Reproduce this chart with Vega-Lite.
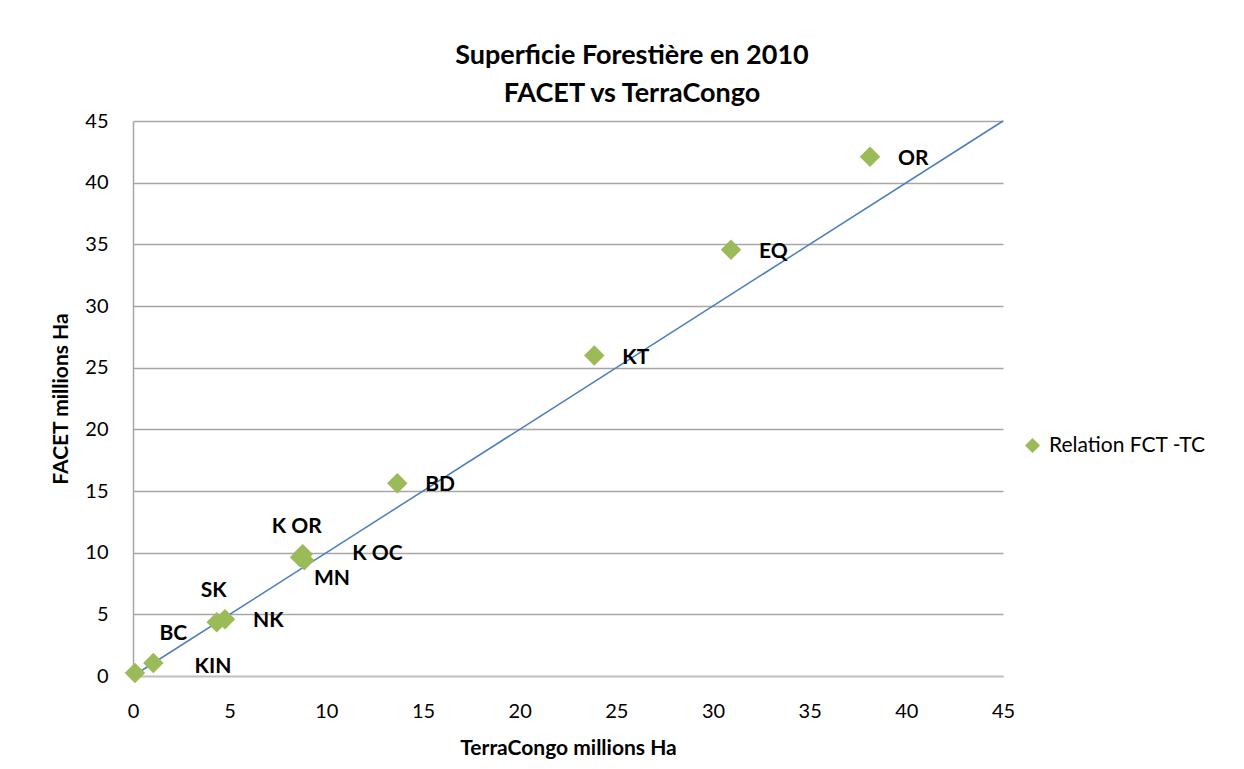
{
  "$schema": "https://vega.github.io/schema/vega-lite/v6.json",
  "width": 870,
  "height": 555,
  "autosize": "none",
  "padding": {"left": 133, "top": 121, "right": 241, "bottom": 93},
  "background": "white",
  "title": {
    "text": ["Superficie Forestière en 2010", "FACET vs TerraCongo"],
    "font": "Lato",
    "fontSize": 27,
    "fontWeight": "bold",
    "color": "black",
    "anchor": "middle",
    "frame": "group",
    "dx": 64,
    "offset": 3,
    "lineHeight": 38
  },
  "config": {
    "view": {"stroke": null},
    "font": "Lato"
  },
  "datasets": {
    "pts": [
      {"label": "KIN", "tc": 0.1, "facet": 0.24, "series": "Relation FCT -TC"},
      {"label": "BC", "tc": 1.05, "facet": 1.05, "series": "Relation FCT -TC"},
      {"label": "SK", "tc": 4.33, "facet": 4.35, "series": "Relation FCT -TC"},
      {"label": "NK", "tc": 4.76, "facet": 4.61, "series": "Relation FCT -TC"},
      {"label": "K OR", "tc": 8.78, "facet": 9.87, "series": "Relation FCT -TC"},
      {"label": "K OC", "tc": 8.86, "facet": 9.39, "series": "Relation FCT -TC"},
      {"label": "MN", "tc": 8.64, "facet": 9.63, "series": "Relation FCT -TC"},
      {"label": "BD", "tc": 13.67, "facet": 15.62, "series": "Relation FCT -TC"},
      {"label": "KT", "tc": 23.86, "facet": 25.98, "series": "Relation FCT -TC"},
      {"label": "EQ", "tc": 30.93, "facet": 34.56, "series": "Relation FCT -TC"},
      {"label": "OR", "tc": 38.12, "facet": 42.11, "series": "Relation FCT -TC"}
    ],
    "line": [
      {"tc": 0, "facet": 0},
      {"tc": 45, "facet": 45}
    ]
  },
  "encoding": {
    "x": {
      "field": "tc",
      "type": "quantitative",
      "scale": {"domain": [0, 45], "nice": false, "zero": true},
      "axis": {
        "title": "TerraCongo millions Ha",
        "values": [0, 5, 10, 15, 20, 25, 30, 35, 40, 45],
        "grid": false,
        "ticks": false,
        "domain": true,
        "domainColor": "#bfbfbf",
        "domainWidth": 1.5,
        "labelFont": "Lato",
        "labelFontSize": 20,
        "labelColor": "black",
        "labelPadding": 25,
        "labelFlush": false,
        "titleFont": "Lato",
        "titleFontSize": 21,
        "titleFontWeight": "bold",
        "titleColor": "black",
        "titlePadding": 16
      }
    },
    "y": {
      "field": "facet",
      "type": "quantitative",
      "scale": {"domain": [0, 45], "nice": false, "zero": true},
      "axis": {
        "title": "FACET millions Ha",
        "values": [0, 5, 10, 15, 20, 25, 30, 35, 40, 45],
        "grid": true,
        "gridColor": "#a6a6a6",
        "gridWidth": 1.5,
        "ticks": false,
        "domain": true,
        "domainColor": "#a6a6a6",
        "domainWidth": 1.5,
        "labelFont": "Lato",
        "labelFontSize": 20,
        "labelColor": "black",
        "labelPadding": 25,
        "labelFlush": false,
        "titleFont": "Lato",
        "titleFontSize": 21,
        "titleFontWeight": "bold",
        "titleColor": "black",
        "titlePadding": 13
      }
    }
  },
  "layer": [
    {
      "data": {"name": "line"},
      "mark": {"type": "line", "color": "#4A7EBB", "strokeWidth": 1.5},
      "encoding": {}
    },
    {
      "data": {"name": "pts"},
      "mark": {"type": "point", "shape": "diamond", "filled": true, "size": 420, "opacity": 1},
      "encoding": {
        "color": {
          "field": "series",
          "type": "nominal",
          "scale": {"range": ["#9BBB59"]},
          "legend": {
            "title": null,
            "orient": "none",
            "legendX": 889,
            "legendY": 314,
            "padding": 0,
            "symbolType": "diamond",
            "symbolSize": 225,
            "symbolStrokeWidth": 0,
            "labelFont": "Lato",
            "labelFontSize": 21,
            "labelColor": "black",
            "labelOffset": 6,
            "labelLimit": 300
          }
        }
      }
    },
    {
      "data": {"name": "pts"},
      "transform": [{"filter": {"field": "label", "oneOf": ["OR", "EQ", "KT", "BD", "NK"]}}],
      "mark": {"type": "text", "align": "left", "baseline": "middle", "dx": 28, "dy": 2, "font": "Lato", "fontSize": 21, "fontWeight": "bold", "color": "black"},
      "encoding": {"text": {"field": "label"}}
    },
    {
      "data": {"name": "pts"},
      "transform": [{"filter": {"field": "label", "equal": "K OC"}}],
      "mark": {"type": "text", "align": "left", "baseline": "middle", "dx": 48, "dy": -6, "font": "Lato", "fontSize": 21, "fontWeight": "bold", "color": "black"},
      "encoding": {"text": {"field": "label"}}
    },
    {
      "data": {"name": "pts"},
      "transform": [{"filter": {"field": "label", "equal": "K OR"}}],
      "mark": {"type": "text", "align": "center", "baseline": "middle", "dx": -6, "dy": -27, "font": "Lato", "fontSize": 21, "fontWeight": "bold", "color": "black"},
      "encoding": {"text": {"field": "label"}}
    },
    {
      "data": {"name": "pts"},
      "transform": [{"filter": {"field": "label", "equal": "MN"}}],
      "mark": {"type": "text", "align": "center", "baseline": "middle", "dx": 32, "dy": 22, "font": "Lato", "fontSize": 21, "fontWeight": "bold", "color": "black"},
      "encoding": {"text": {"field": "label"}}
    },
    {
      "data": {"name": "pts"},
      "transform": [{"filter": {"field": "label", "equal": "SK"}}],
      "mark": {"type": "text", "align": "center", "baseline": "middle", "dx": -3, "dy": -31, "font": "Lato", "fontSize": 21, "fontWeight": "bold", "color": "black"},
      "encoding": {"text": {"field": "label"}}
    },
    {
      "data": {"name": "pts"},
      "transform": [{"filter": {"field": "label", "equal": "BC"}}],
      "mark": {"type": "text", "align": "center", "baseline": "middle", "dx": 20, "dy": -29, "font": "Lato", "fontSize": 21, "fontWeight": "bold", "color": "black"},
      "encoding": {"text": {"field": "label"}}
    },
    {
      "data": {"name": "pts"},
      "transform": [{"filter": {"field": "label", "equal": "KIN"}}],
      "mark": {"type": "text", "align": "center", "baseline": "middle", "dx": 78, "dy": -6, "font": "Lato", "fontSize": 21, "fontWeight": "bold", "color": "black"},
      "encoding": {"text": {"field": "label"}}
    }
  ]
}
